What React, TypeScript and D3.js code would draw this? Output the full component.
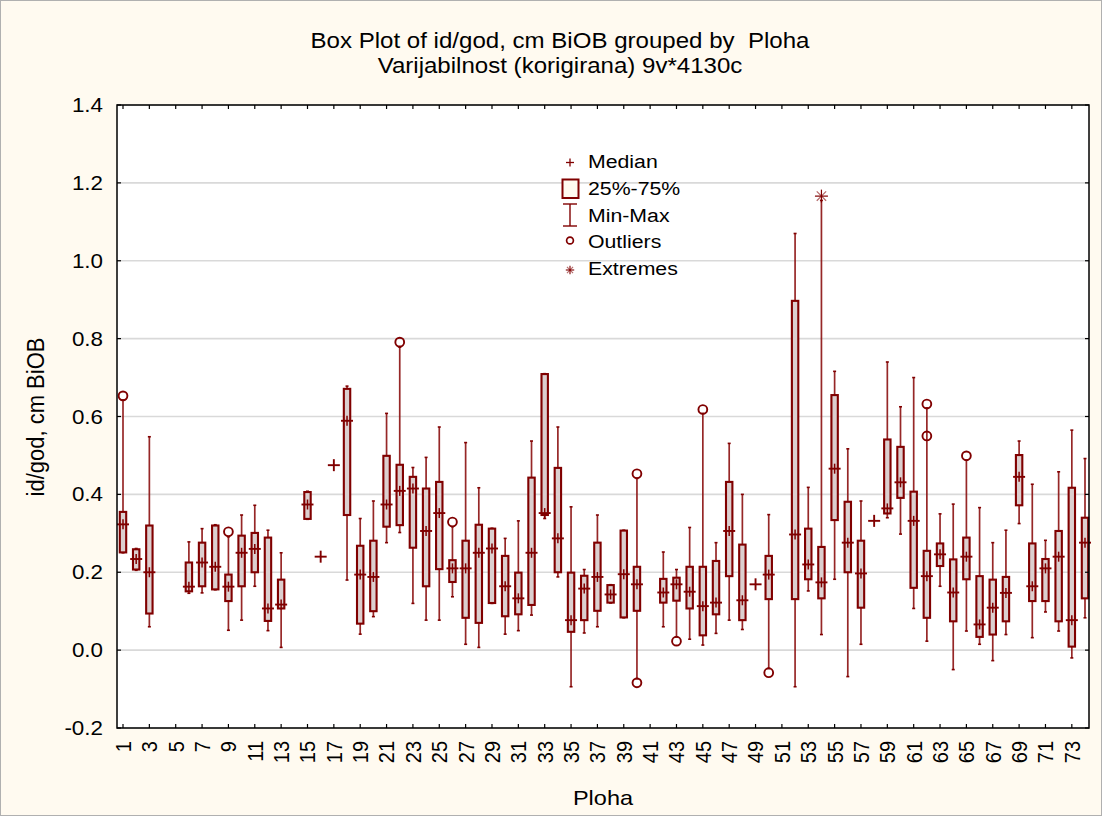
import React from "react";
import * as d3 from "d3";

// ---- Data ----
const categories: number[] = Array.from({ length: 74 }, (_, i) => i + 1);
// null = no data for that Ploha
const mins: (number | null)[] = [
  0.250, 0.205, 0.060, null, null, 0.146, 0.147, 0.155, 0.051, 0.077,
  0.164, 0.050, 0.007, null, 0.336, 0.240, 0.475, 0.180, 0.041, 0.086,
  0.276, 0.302, 0.120, 0.077, 0.077, 0.137, 0.015, 0.007, 0.120, 0.041,
  0.050, 0.090, 0.338, 0.188, -0.094, 0.044, 0.060, 0.121, 0.083, -0.073,
  null, 0.060, 0.034, 0.028, 0.013, 0.043, 0.077, 0.053, 0.169, -0.047,
  null, -0.094, 0.152, 0.040, 0.182, -0.068, 0.015, 0.332, 0.340, 0.298,
  0.107, 0.023, 0.164, -0.050, 0.049, 0.015, -0.027, 0.040, 0.325, 0.032,
  0.098, 0.049, -0.020, 0.083,
];
const q1s: (number | null)[] = [
  0.251, 0.207, 0.094, null, null, 0.151, 0.164, 0.156, 0.126, 0.164,
  0.200, 0.075, 0.107, null, 0.337, 0.240, 0.475, 0.347, 0.068, 0.100,
  0.317, 0.321, 0.263, 0.164, 0.208, 0.175, 0.083, 0.070, 0.121, 0.087,
  0.092, 0.116, 0.347, 0.200, 0.047, 0.077, 0.101, 0.122, 0.084, 0.101,
  null, 0.122, 0.127, 0.107, 0.038, 0.092, 0.190, 0.077, 0.169, 0.131,
  null, 0.131, 0.182, 0.133, 0.334, 0.200, 0.109, 0.332, 0.351, 0.391,
  0.160, 0.083, 0.216, 0.074, 0.182, 0.034, 0.040, 0.074, 0.372, 0.126,
  0.126, 0.074, 0.009, 0.133,
];
const medians: (number | null)[] = [
  0.323, 0.234, 0.200, null, null, 0.163, 0.225, 0.214, 0.163, 0.250,
  0.260, 0.107, 0.117, null, 0.374, 0.240, 0.475, 0.589, 0.194, 0.188,
  0.374, 0.409, 0.415, 0.306, 0.352, 0.210, 0.210, 0.250, 0.261, 0.164,
  0.133, 0.250, 0.352, 0.287, 0.077, 0.158, 0.188, 0.143, 0.195, 0.169,
  null, 0.148, 0.169, 0.150, 0.113, 0.122, 0.306, 0.128, 0.169, 0.194,
  null, 0.297, 0.220, 0.174, 0.466, 0.276, 0.197, 0.332, 0.364, 0.431,
  0.332, 0.190, 0.246, 0.148, 0.240, 0.066, 0.109, 0.147, 0.445, 0.164,
  0.210, 0.240, 0.077, 0.276,
];
const q3s: (number | null)[] = [
  0.355, 0.259, 0.320, null, null, 0.225, 0.276, 0.320, 0.194, 0.294,
  0.301, 0.289, 0.181, null, 0.406, 0.240, 0.475, 0.671, 0.268, 0.281,
  0.499, 0.476, 0.445, 0.415, 0.432, 0.231, 0.281, 0.322, 0.312, 0.242,
  0.199, 0.443, 0.709, 0.468, 0.199, 0.191, 0.276, 0.167, 0.307, 0.214,
  null, 0.183, 0.186, 0.214, 0.214, 0.229, 0.432, 0.271, 0.169, 0.242,
  null, 0.897, 0.312, 0.265, 0.655, 0.381, 0.281, 0.332, 0.541, 0.522,
  0.407, 0.255, 0.274, 0.233, 0.289, 0.190, 0.181, 0.188, 0.501, 0.274,
  0.234, 0.306, 0.417, 0.340,
];
const maxs: (number | null)[] = [
  0.642, 0.261, 0.548, null, null, 0.278, 0.312, 0.322, 0.291, 0.347,
  0.372, 0.308, 0.250, null, 0.408, 0.240, 0.475, 0.678, 0.338, 0.383,
  0.608, 0.778, 0.469, 0.495, 0.573, 0.317, 0.533, 0.417, 0.313, 0.287,
  0.332, 0.537, 0.710, 0.573, 0.368, 0.207, 0.347, 0.168, 0.308, 0.441,
  null, 0.252, 0.207, 0.315, 0.608, 0.276, 0.531, 0.400, 0.169, 0.348,
  null, 1.070, 0.418, 1.155, 0.716, 0.517, 0.383, 0.332, 0.740, 0.625,
  0.700, 0.622, 0.350, 0.375, 0.488, 0.366, 0.276, 0.308, 0.537, 0.426,
  0.282, 0.458, 0.565, 0.492,
];
const outlierCats: number[] = [1, 9, 22, 26, 40, 40, 43, 45, 50, 62, 62, 65];
const outlierVals: number[] = [0.653, 0.304, 0.791, 0.329, 0.453, -0.084, 0.023, 0.618, -0.058, 0.632, 0.550, 0.499];
const extremeCats: number[] = [54];
const extremeVals: number[] = [1.166];
const yTicks: number[] = [-0.2, 0.0, 0.2, 0.4, 0.6, 0.8, 1.0, 1.2, 1.4];
const xTickCats: number[] = categories.filter((c) => c % 2 === 1);
const legendItems: string[] = ["Median", "25%-75%", "Min-Max", "Outliers", "Extremes"];

const W = 1102;
const H = 816;
const L = 117, R = 1089, T = 105, B = 728;
const RED = "#800000";
const FONT = "'Liberation Sans', Arial, Helvetica, sans-serif";
const SX = 1.12;

function Txt(props: { x: number; y: number; size: number; anchor?: string; rotate?: number; baseline?: string; children: any }) {
  const { x, y, size, anchor = "start", rotate = 0, baseline, children } = props;
  return (
    <text
      transform={`translate(${x},${y}) scale(${SX},1)${rotate ? ` rotate(${rotate})` : ""}`}
      fontFamily={FONT}
      fontSize={size}
      textAnchor={anchor}
      dominantBaseline={baseline}
      fill="#000"
    >
      {children}
    </text>
  );
}

function Asterisk({ cx, cy, s, w }: { cx: number; cy: number; s: number; w: number }) {
  const d = s * 0.72;
  return (
    <g stroke={RED} strokeWidth={w}>
      <line x1={cx - s} x2={cx + s} y1={cy} y2={cy} />
      <line x1={cx} x2={cx} y1={cy - s} y2={cy + s} />
      <line x1={cx - d} x2={cx + d} y1={cy - d} y2={cy + d} strokeOpacity={0.6} />
      <line x1={cx - d} x2={cx + d} y1={cy + d} y2={cy - d} strokeOpacity={0.6} />
    </g>
  );
}

export default function App() {
  const x = d3.scaleLinear().domain([1, 74]).range([123, 1085]);
  const y = d3.scaleLinear().domain([-0.2, 1.4]).range([B, T]);
  const bw = 3.2;
  const fmt = (t: number) => d3.format(".1f")(t).replace("\u2212", "-");

  return (
    <svg width={W} height={H} style={{ position: "absolute", left: 0, top: 0 }} xmlns="http://www.w3.org/2000/svg">
      <rect x={0.5} y={0.5} width={W - 1} height={H - 1} fill="#fffaf0" stroke="#b0b0b0" />
      <rect x={L} y={T} width={R - L} height={B - T} fill="#ffffff" />
      {/* grid */}
      {yTicks.map((t) => (
        <line key={"g" + t} x1={L} x2={R} y1={y(t)} y2={y(t)} stroke="#d9d9d9" strokeWidth={1.6} />
      ))}

      {/* titles */}
      <Txt x={560} y={48} size={21.5} anchor="middle">{"Box Plot of id/god, cm BiOB grouped by \u00a0Ploha"}</Txt>
      <Txt x={560} y={73} size={21.5} anchor="middle">Varijabilnost (korigirana) 9v*4130c</Txt>

      {/* boxes */}
      {categories.map((c, i) => {
        const mn = mins[i], a = q1s[i], m = medians[i], b = q3s[i], mx = maxs[i];
        if (m === null || mn === null || a === null || b === null || mx === null) return null;
        const cx = x(c);
        const single = mn === mx;
        return (
          <g key={"b" + c}>
            {!single && (
              <g>
                <line x1={cx} x2={cx} y1={y(mx)} y2={y(mn)} stroke="#8b1010" strokeWidth={1.7} strokeOpacity={0.9} />
                <line x1={cx - 1.5} x2={cx + 1.5} y1={y(mx)} y2={y(mx)} stroke={RED} strokeWidth={1.6} />
                <line x1={cx - 1.5} x2={cx + 1.5} y1={y(mn)} y2={y(mn)} stroke={RED} strokeWidth={1.6} />
                <rect x={cx - bw} y={y(b)} width={bw * 2} height={Math.max(0.5, y(a) - y(b))} fill="#dccfcf" stroke={RED} strokeWidth={2.1} />
              </g>
            )}
            <line x1={cx - 6} x2={cx + 6} y1={y(m)} y2={y(m)} stroke={RED} strokeWidth={1.9} />
            <line x1={cx} x2={cx} y1={y(m) - (single ? 6 : 5)} y2={y(m) + (single ? 6 : 5)} stroke={RED} strokeWidth={single ? 1.9 : 1.5} />
          </g>
        );
      })}

      {/* outliers */}
      {outlierCats.map((c, i) => (
        <circle key={"o" + i} cx={x(c)} cy={y(outlierVals[i])} r={4.4} fill="none" stroke={RED} strokeWidth={1.9} />
      ))}
      {extremeCats.map((c, i) => (
        <Asterisk key={"e" + i} cx={x(c)} cy={y(extremeVals[i])} s={6.5} w={1.2} />
      ))}

      {/* frame */}
      <rect x={L} y={T} width={R - L} height={B - T} fill="none" stroke="#000" strokeWidth={1.5} />
      {yTicks.map((t) => (
        <g key={"yt" + t}>
          <line x1={L} x2={L + 4} y1={y(t)} y2={y(t)} stroke="#000" strokeWidth={1.2} />
          <line x1={R - 4} x2={R} y1={y(t)} y2={y(t)} stroke="#000" strokeWidth={1.2} />
          <Txt x={103} y={y(t)} size={20} anchor="end" baseline="central">{fmt(t)}</Txt>
        </g>
      ))}
      {xTickCats.map((c) => (
        <g key={"xt" + c}>
          <line x1={x(c)} x2={x(c)} y1={B} y2={B - 4} stroke="#000" strokeWidth={1.2} />
          <line x1={x(c)} x2={x(c)} y1={T} y2={T + 4} stroke="#000" strokeWidth={1.2} />
          <Txt x={x(c)} y={741} size={20} anchor="end" rotate={-90} baseline="central">{String(c)}</Txt>
        </g>
      ))}

      {/* axis titles */}
      <Txt x={603} y={805} size={21} anchor="middle">Ploha</Txt>
      <Txt x={36} y={417} size={22} anchor="middle" rotate={-90} baseline="central">id/god, cm BiOB</Txt>

      {/* legend */}
      <g>
        <line x1={566} x2={574} y1={162.5} y2={162.5} stroke={RED} strokeWidth={1.3} />
        <line x1={570} x2={570} y1={158.5} y2={166.5} stroke={RED} strokeWidth={1.3} />
        <rect x={562.5} y={179.5} width={16} height={18.5} fill="#fffaf0" stroke={RED} strokeWidth={2} />
        <line x1={570} x2={570} y1={204} y2={226} stroke={RED} strokeWidth={1.4} />
        <line x1={563} x2={577} y1={204} y2={204} stroke={RED} strokeWidth={1.4} />
        <line x1={563} x2={577} y1={226} y2={226} stroke={RED} strokeWidth={1.4} />
        <circle cx={570} cy={240.5} r={3.4} fill="none" stroke={RED} strokeWidth={1.7} />
        <Asterisk cx={570} cy={270} s={4.2} w={1.1} />
        {legendItems.map((t, i) => (
          <Txt key={t} x={588} y={168 + i * 26.8} size={19}>{t}</Txt>
        ))}
      </g>
    </svg>
  );
}
